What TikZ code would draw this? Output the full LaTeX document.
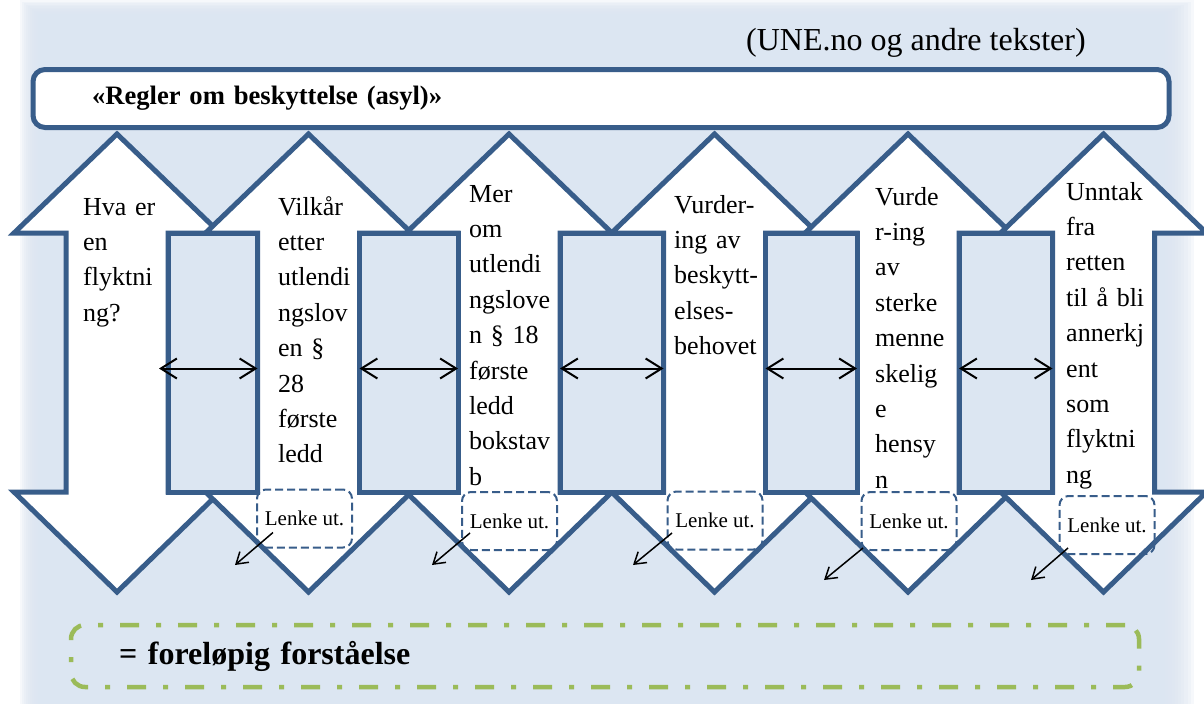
\documentclass[tikz,border=0pt]{standalone}
\usepackage{fontspec}
\setmainfont{Liberation Serif}
\usepackage{xcolor}
\usetikzlibrary{positioning,arrows.meta}

\definecolor{bgblue}{HTML}{DCE6F2}
\definecolor{lineblue}{HTML}{385D8A}
\definecolor{legendgreen}{HTML}{9BBB59}

\newcommand{\flowarrow}[1]{%
  \draw[flowbody] (#1,134) -- ++(103,99) -- ++(-52,0) -- ++(0,259) -- ++(52,0)
    -- (#1,592) -- ++(-103,-100) -- ++(52,0) -- ++(0,-259) -- ++(-52,0) -- cycle;}

\tikzset{
  flowbody/.style={fill=white, draw=lineblue, line width=5pt},
  gapbox/.style={fill=bgblue, draw=lineblue, line width=5pt, minimum width=#1, minimum height=259pt, inner sep=0pt, outer sep=0pt},
  arrowtext/.style={anchor=base west, inner sep=0pt, text width=110pt, align=left, font=\fontsize{26}{35.4}\selectfont},
  lenkebox/.style={draw=lineblue, line width=2pt, dash pattern=on 8pt off 4pt, rounded corners=9pt, minimum width=95pt, minimum height=58pt, inner sep=0pt, outer sep=0pt, font=\fontsize{21}{24}\selectfont},
  twoway/.style={>={Straight Barb[length=16pt,width=20pt]}, <->, line width=2pt},
  outway/.style={>={Straight Barb[length=11pt,width=14pt]}, ->, line width=1.5pt},
  titlebox/.style={fill=white, draw=lineblue, line width=5pt, rounded corners=12pt, minimum width=1136pt, minimum height=58pt, text width=1018pt, inner xsep=59pt, inner ysep=0pt, align=left, font=\bfseries\fontsize{26.6}{30}\selectfont},
  legendbox/.style={draw=legendgreen, line width=4.5pt, dash pattern=on 19pt off 17pt on 5pt off 17pt, rounded corners=14pt, minimum width=1068pt, minimum height=62pt, text width=972pt, inner xsep=48pt, inner ysep=0pt, align=left, font=\bfseries\fontsize{32}{36}\selectfont}
}

\begin{document}
\begin{tikzpicture}[x=1pt, y=-1pt]
    \useasboundingbox (0,0) rectangle (1204,704);
    \fill[white] (0,0) rectangle (1204,704);
    \foreach \i in {0,...,9}
        \fill[bgblue, opacity=0.25] ({20+2*\i},{1.5*\i}) rectangle ({1194-3.2*\i},704);
    \fill[bgblue] (40,15) rectangle (1162,704);

    \flowarrow{117}
    \flowarrow{308.5}
    \flowarrow{509}
    \flowarrow{714.5}
    \flowarrow{908}
    \flowarrow{1103.5}

    \node[gapbox=89.5pt] (gap1) at (212.75,362.5) {};
    \node[gapbox=98.5pt] (gap2) at (408.75,362.5) {};
    \node[gapbox=103.5pt] (gap3) at (611.75,362.5) {};
    \node[gapbox=91.5pt] (gap4) at (811.25,362.5) {};
    \node[gapbox=93.5pt] (gap5) at (1005.75,362.5) {};

    \draw[twoway] ([shift={(-9,6)}]gap1.west) -- ([yshift=-6pt]gap1.east);
    \draw[twoway] ([yshift=-6pt]gap2.west) -- ([yshift=-6pt]gap2.east);
    \draw[twoway] ([yshift=-6pt]gap3.west) -- ([yshift=-6pt]gap3.east);
    \draw[twoway] ([yshift=-6pt]gap4.west) -- ([yshift=-6pt]gap4.east);
    \draw[twoway] ([yshift=-6pt]gap5.west) -- ([yshift=-6pt]gap5.east);

    \node[arrowtext] (flyktning) at (83,215) {Hva er\\en\\flyktni\\ng?};
    \node[arrowtext] (vilkaar) at (278,215) {Vilkår\\etter\\utlendi\\ngslov\\en §\\28\\første\\ledd};
    \node[arrowtext] (paragraf) at (469,202) {Mer\\om\\utlendi\\ngslove\\n § 18\\første\\ledd\\bokstav\\b};
    \node[arrowtext] (behov) at (674,213) {Vurder-\\ing av\\beskytt-\\elses-\\behovet};
    \node[arrowtext] (hensyn) at (875,205) {Vurde\\r-ing\\av\\sterke\\menne\\skelig\\e\\hensy\\n};
    \node[arrowtext] (unntak) at (1066,200) {Unntak\\fra\\retten\\til å bli\\annerkj\\ent\\som\\flyktni\\ng};

    \node[lenkebox] (lenke1) at (304.5,518.5) {Lenke ut.};
    \node[lenkebox] (lenke2) at (509.5,521) {Lenke ut.};
    \node[lenkebox] (lenke3) at (715,520.5) {Lenke ut.};
    \node[lenkebox] (lenke4) at (909,521) {Lenke ut.};
    \node[lenkebox] (lenke5) at (1107,525) {Lenke ut.};

    \coordinate (out1) at (235,565);
    \coordinate (out2) at (432,565);
    \coordinate (out3) at (633,565);
    \coordinate (out4) at (824,580);
    \coordinate (out5) at (1031,580);
    \draw[outway] ([shift={(16,-15)}]lenke1.south west) -- (out1);
    \draw[outway] ([shift={(8,-17)}]lenke2.south west) -- (out2);
    \draw[outway] ([shift={(4.5,-16.5)}]lenke3.south west) -- (out3);
    \draw[outway] ([shift={(1.5,-2)}]lenke4.south west) -- (out4);
    \draw[outway] ([shift={(8.5,-6)}]lenke5.south west) -- (out5);

    \node[titlebox] (regler) at (601,98.5) {«Regler om beskyttelse (asyl)»};
    \node[anchor=base west, inner sep=0pt, font=\fontsize{32}{36}\selectfont] (kilde) at (746,50) {(UNE.no og andre tekster)};

    \node[legendbox] (forstaaelse) at (605,656) {= foreløpig forståelse};
\end{tikzpicture}
\end{document}
